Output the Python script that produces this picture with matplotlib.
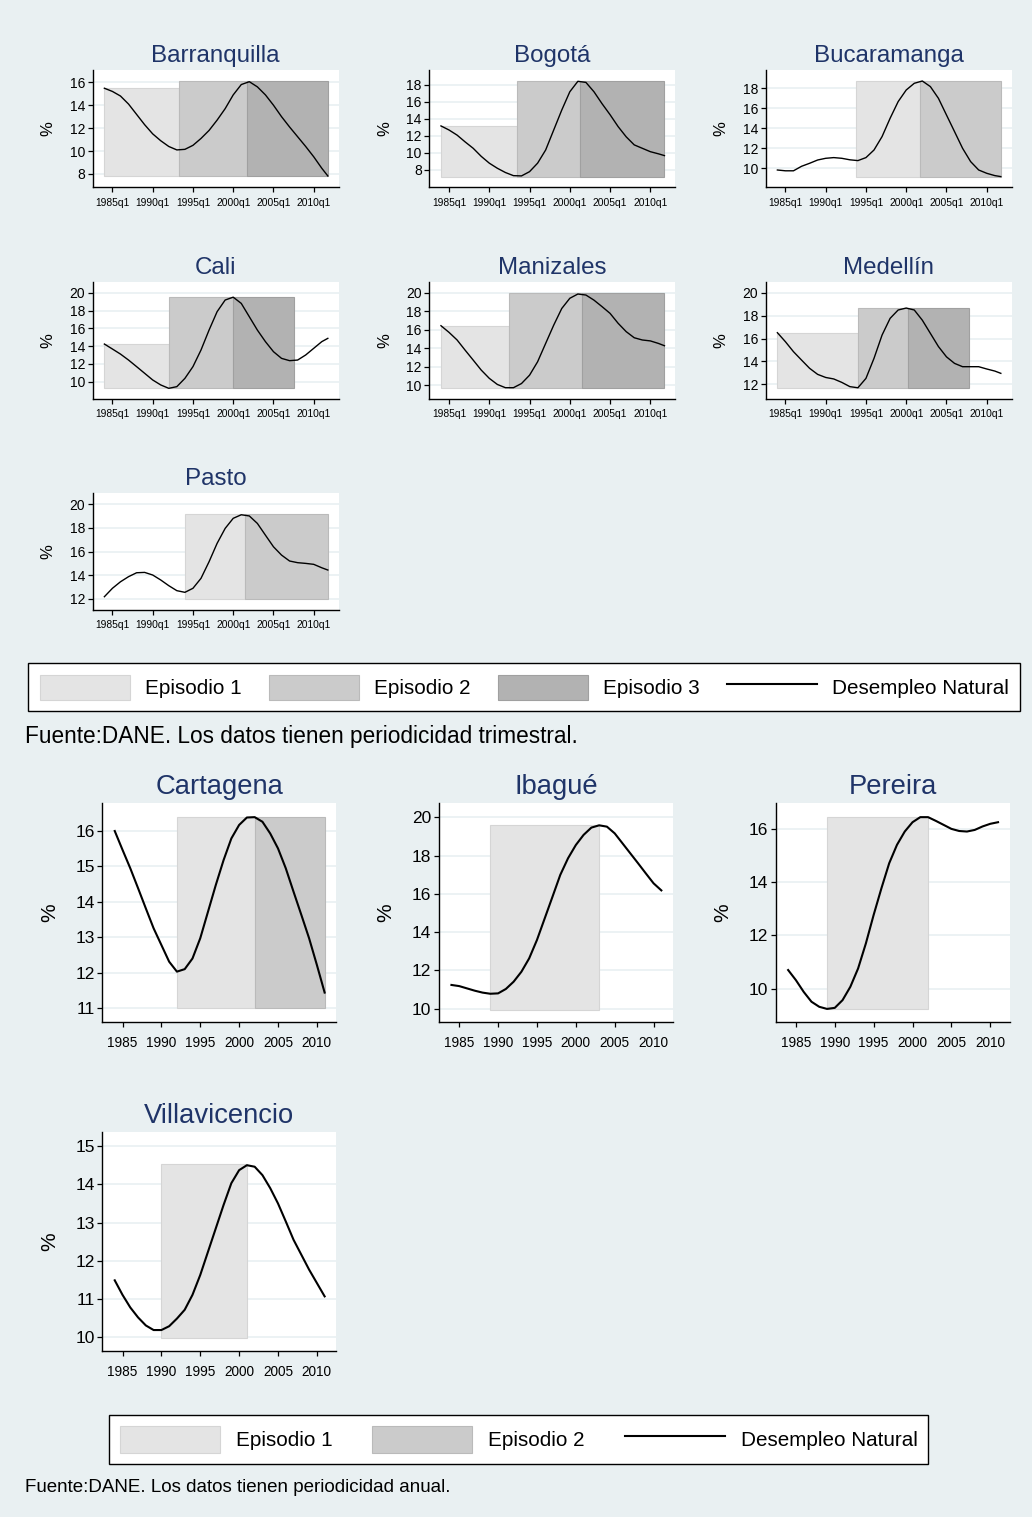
import matplotlib.pyplot as plt
from matplotlib.patches import Patch
from matplotlib.lines import Line2D

plt.rcParams['font.family'] = ['Liberation Sans', 'DejaVu Sans']

# ---------------- datos ----------------
# Series trimestrales: valor del primer trimestre de cada año y cierre en 2011q4
anios_trim = list(range(1984, 2012)) + [2011.75]
# Series anuales 1984-2011
anios_anual = list(range(1984, 2012))

barranquilla = [15.48, 15.2, 14.8, 14.1, 13.2, 12.3, 11.5, 10.9, 10.4, 10.1, 10.15, 10.5,
                11.1, 11.8, 12.7, 13.7, 14.9, 15.8, 16.05, 15.6, 14.9, 14.0, 13.0, 12.1,
                11.25, 10.4, 9.5, 8.5, 7.83]
bogota = [13.18, 12.7, 12.1, 11.3, 10.55, 9.6, 8.8, 8.2, 7.7, 7.33, 7.3, 7.8, 8.8, 10.35,
          12.7, 15.05, 17.2, 18.43, 18.3, 17.2, 15.8, 14.5, 13.1, 11.9, 10.95, 10.55, 10.15,
          9.9, 9.69]
bucaramanga = [9.83, 9.75, 9.75, 10.2, 10.5, 10.83, 11.0, 11.07, 11.0, 10.85, 10.77, 11.07,
               11.83, 13.17, 15.0, 16.67, 17.83, 18.5, 18.73, 18.17, 17.0, 15.33, 13.67, 12.0,
               10.67, 9.83, 9.5, 9.27, 9.17]
cali = [14.23, 13.67, 13.1, 12.43, 11.69, 10.94, 10.19, 9.63, 9.25, 9.44, 10.37, 11.69, 13.56,
        15.8, 17.87, 19.18, 19.5, 18.8, 17.3, 15.8, 14.5, 13.37, 12.62, 12.36, 12.43, 13.0,
        13.75, 14.5, 14.87]
manizales = [16.44, 15.72, 14.9, 13.8, 12.73, 11.65, 10.76, 10.1, 9.75, 9.75, 10.2, 11.1,
             12.55, 14.53, 16.5, 18.3, 19.4, 19.86, 19.75, 19.2, 18.5, 17.77, 16.7, 15.8,
             15.14, 14.9, 14.8, 14.53, 14.28]
medellin = [16.51, 15.72, 14.85, 14.12, 13.4, 12.87, 12.6, 12.47, 12.17, 11.8, 11.7, 12.52,
            14.27, 16.3, 17.76, 18.49, 18.66, 18.49, 17.6, 16.45, 15.3, 14.4, 13.83, 13.54,
            13.54, 13.54, 13.34, 13.16, 12.96]
pasto = [12.19, 12.9, 13.45, 13.88, 14.21, 14.24, 14.02, 13.6, 13.12, 12.7, 12.56, 12.9,
         13.74, 15.14, 16.69, 17.95, 18.8, 19.1, 19.0, 18.37, 17.38, 16.4, 15.7, 15.2, 15.06,
         15.0, 14.92, 14.63, 14.44]

cartagena = [15.99, 15.46, 14.94, 14.38, 13.81, 13.25, 12.78, 12.31, 12.03, 12.1, 12.4, 12.97,
             13.72, 14.47, 15.17, 15.78, 16.16, 16.37, 16.38, 16.25, 15.92, 15.5, 14.94, 14.28,
             13.63, 12.97, 12.22, 11.44]
ibague = [11.24, 11.18, 11.06, 10.94, 10.84, 10.78, 10.8, 11.03, 11.41, 11.93, 12.63, 13.59,
          14.72, 15.85, 16.99, 17.86, 18.55, 19.08, 19.46, 19.58, 19.51, 19.16, 18.64, 18.12,
          17.6, 17.07, 16.55, 16.18]
pereira = [10.7, 10.32, 9.88, 9.51, 9.32, 9.24, 9.28, 9.57, 10.07, 10.76, 11.7, 12.77, 13.77,
           14.71, 15.4, 15.9, 16.25, 16.44, 16.44, 16.3, 16.15, 16.0, 15.92, 15.9, 15.96, 16.09,
           16.19, 16.25]
villavicencio = [11.49, 11.11, 10.78, 10.52, 10.31, 10.19, 10.19, 10.29, 10.49, 10.72, 11.11,
                 11.63, 12.24, 12.85, 13.46, 14.03, 14.37, 14.5, 14.46, 14.24, 13.9, 13.5, 13.03,
                 12.55, 12.16, 11.77, 11.42, 11.07]

# episodios: (inicio, fin, techo) y piso común de cada ciudad
ep_barranquilla = [(1984.0, 1993.25, 15.5), (1993.25, 2001.75, 16.08), (2001.75, 2011.75, 16.08)]
ep_bogota = [(1984.0, 1993.5, 13.15), (1993.5, 2001.25, 18.45), (2001.25, 2011.75, 18.45)]
ep_bucaramanga = [(1993.75, 2001.75, 18.73), (2001.75, 2011.75, 18.73)]
ep_cali = [(1984.0, 1992.0, 14.2), (1992.0, 2000.0, 19.55), (2000.0, 2007.5, 19.55)]
ep_manizales = [(1984.0, 1992.5, 16.45), (1992.5, 2001.5, 19.93), (2001.5, 2011.75, 19.93)]
ep_medellin = [(1984.0, 1994.0, 16.5), (1994.0, 2000.25, 18.7), (2000.25, 2007.75, 18.7)]
ep_pasto = [(1994.0, 2001.5, 19.13), (2001.5, 2011.75, 19.13)]
ep_cartagena = [(1992, 2002, 16.38), (2002, 2011, 16.38)]
ep_ibague = [(1989, 2003, 19.58)]
ep_pereira = [(1989, 2002, 16.46)]
ep_villavicencio = [(1990, 2001, 14.52)]

piso = {'Barranquilla': 7.8, 'Bogotá': 7.2, 'Bucaramanga': 9.17, 'Cali': 9.25,
        'Manizales': 9.68, 'Medellín': 11.65, 'Pasto': 12.0, 'Cartagena': 11.0,
        'Ibagué': 9.95, 'Pereira': 9.23, 'Villavicencio': 9.98}

xt_anios = [1985, 1990, 1995, 2000, 2005, 2010]
xt_trim = [f'{a}q1' for a in xt_anios]
xt_anual = [str(a) for a in xt_anios]

leyenda_trim = ['Episodio 1', 'Episodio 2', 'Episodio 3', 'Desempleo Natural']
leyenda_anual = ['Episodio 1', 'Episodio 2', 'Desempleo Natural']
nota_trim = 'Fuente:DANE. Los datos tienen periodicidad trimestral.'
nota_anual = 'Fuente:DANE. Los datos tienen periodicidad anual.'

# ---------------- estilo ----------------
W, H = 1032, 1517
FONDO = '#e9f0f2'
TITULO = '#1f3468'
EP_COLOR = ['#e4e4e4', '#cbcbcb', '#b2b2b2']
EP_BORDE = ['#d5d5d5', '#bababa', '#a0a0a0']


def px(left, top, width, height):
    # caja en pixeles -> fracción de figura
    return [left / W, 1 - (top + height) / H, width / W, height / H]


def panel(ax, nombre, x, y, episodios, yticks, ylim, xlim, xlabels, s):
    ax.set_facecolor('white')
    for i, (a, b, techo) in enumerate(episodios):
        ax.bar(a, techo - piso[nombre], width=b - a, bottom=piso[nombre], align='edge',
               color=EP_COLOR[i], edgecolor=EP_BORDE[i], linewidth=0.8, zorder=1)
    ax.plot(x, y, color='black', lw=s['lw'], zorder=3)
    ax.set_xlim(*xlim)
    ax.set_ylim(*ylim)
    ax.set_yticks(yticks)
    ax.set_yticklabels([str(v) for v in yticks], fontsize=s['ytick'])
    ax.set_xticks(xt_anios)
    ax.set_xticklabels(xlabels, fontsize=s['xtick'])
    ax.yaxis.grid(True, color=FONDO, lw=1.2)
    ax.set_axisbelow(True)
    for lado in ('top', 'right'):
        ax.spines[lado].set_visible(False)
    for lado in ('left', 'bottom'):
        ax.spines[lado].set_linewidth(1.0)
    ax.tick_params(axis='y', length=3.5, width=0.9, pad=2)
    ax.tick_params(axis='x', length=3.5, width=0.9, pad=s['xpad'])
    ax.set_ylabel('%', fontsize=s['ylab'], rotation=90)
    ax.yaxis.set_label_coords(s['ylab_x'], 0.5)
    ax.set_title(nombre, fontsize=s['title'], color=TITULO, pad=s['tpad'])


fig = plt.figure(figsize=(W / 100, H / 100), dpi=100, facecolor=FONDO)

# ---- gráficos trimestrales ----
s_trim = dict(lw=1.0, ytick=10, xtick=7.4, xpad=4, ylab=12, ylab_x=-0.15, title=17.4, tpad=5.5)
xlim_trim = (1982.55, 2013.1)
trim = [
    ('Barranquilla', barranquilla, ep_barranquilla, [8, 10, 12, 14, 16], (6.84, 17.07)),
    ('Bogotá', bogota, ep_bogota, [8, 10, 12, 14, 16, 18], (5.96, 19.76)),
    ('Bucaramanga', bucaramanga, ep_bucaramanga, [10, 12, 14, 16, 18], (8.1, 19.83)),
    ('Cali', cali, ep_cali, [10, 12, 14, 16, 18, 20], (8.05, 21.24)),
    ('Manizales', manizales, ep_manizales, [10, 12, 14, 16, 18, 20], (8.53, 21.19)),
    ('Medellín', medellin, ep_medellin, [12, 14, 16, 18, 20], (10.72, 20.96)),
    ('Pasto', pasto, ep_pasto, [12, 14, 16, 18, 20], (11.07, 20.96)),
]
izq_trim = [92.7, 429.3, 765.7]
sup_trim = [70, 281.7, 492.7]
for k, (nombre, serie, eps, yt, yl) in enumerate(trim):
    ax = fig.add_axes(px(izq_trim[k % 3], sup_trim[k // 3], 246, 117.3))
    panel(ax, nombre, anios_trim, serie, eps, yt, yl, xlim_trim, xt_trim, s_trim)

# ---- gráficos anuales ----
s_anual = dict(lw=1.5, ytick=12.5, xtick=9.8, xpad=6.5, ylab=15, ylab_x=-0.185, title=19.7,
               tpad=6.5)
xlim_anual = (1982.4, 2012.5)
anual = [
    ('Cartagena', cartagena, ep_cartagena, [11, 12, 13, 14, 15, 16], (10.62, 16.77)),
    ('Ibagué', ibague, ep_ibague, [10, 12, 14, 16, 18, 20], (9.32, 20.73)),
    ('Pereira', pereira, ep_pereira, [10, 12, 14, 16], (8.76, 16.96)),
    ('Villavicencio', villavicencio, ep_villavicencio, [10, 11, 12, 13, 14, 15], (9.65, 15.36)),
]
izq_anual = [102.3, 439, 775.7]
sup_anual = [803.3, 1132.3]
for k, (nombre, serie, eps, yt, yl) in enumerate(anual):
    ax = fig.add_axes(px(izq_anual[k % 3], sup_anual[k // 3], 234, 218.4))
    panel(ax, nombre, anios_anual, serie, eps, yt, yl, xlim_anual, xt_anual, s_anual)


def leyenda(etiquetas, n_ep, esquina, largo, alto, pad, sep, col):
    handles = [Patch(facecolor=EP_COLOR[i], edgecolor=EP_BORDE[i], linewidth=0.8)
               for i in range(n_ep)]
    handles.append(Line2D([], [], color='black', lw=1.5))
    x0, y0 = esquina
    leg = fig.legend(handles, etiquetas, loc='upper left', ncol=len(etiquetas),
                     bbox_to_anchor=(x0 / W, 1 - y0 / H), bbox_transform=fig.transFigure,
                     fontsize=14.9, frameon=True, fancybox=False, edgecolor='black',
                     facecolor='white', framealpha=1, handlelength=largo, handleheight=alto,
                     handletextpad=sep, columnspacing=col, borderpad=pad, borderaxespad=0)
    leg.get_frame().set_linewidth(1.0)


leyenda(leyenda_trim, 3, (28, 663), 4.35, 1.5, 0.56, 0.72, 1.33)
leyenda(leyenda_anual, 2, (109, 1415), 4.83, 1.6, 0.53, 0.77, 1.93)

fig.text(25 / W, 1 - 737 / H, nota_trim, fontsize=16.3, va='center', ha='left')
fig.text(25 / W, 1 - 1488 / H, nota_anual, fontsize=13.5, va='center', ha='left')

fig.savefig('out.png', dpi=100, facecolor=FONDO)
